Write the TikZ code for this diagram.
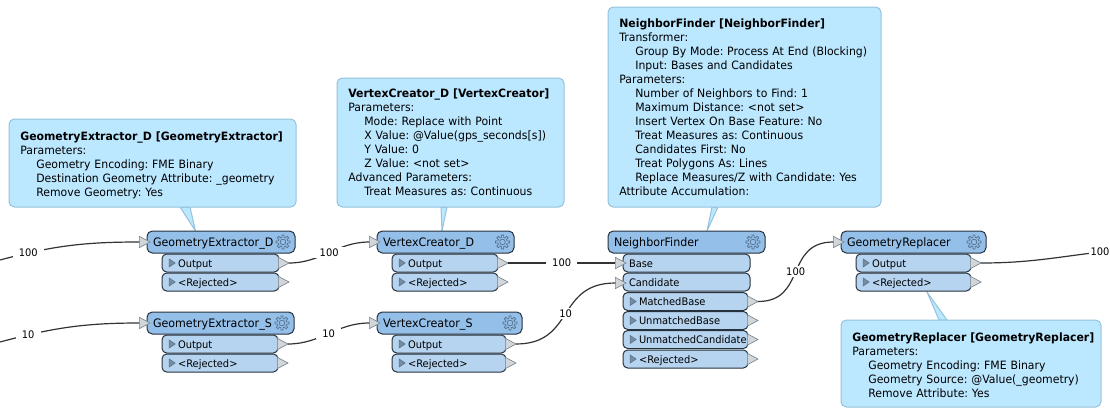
\documentclass[tikz,border=0pt]{standalone}
\usepackage{fontspec}
\setmainfont[FakeStretch=0.95]{DejaVu Sans}
\frenchspacing
\usetikzlibrary{arrows.meta, positioning, shapes.geometric}
\definecolor{headblue}{RGB}{148, 191, 233}
\definecolor{portblue}{RGB}{182, 212, 240}
\definecolor{edgedark}{RGB}{38, 50, 62}
\definecolor{notefill}{RGB}{187, 231, 255}
\definecolor{noteedge}{RGB}{150, 195, 220}
\definecolor{tipgrey}{RGB}{208, 214, 218}
\definecolor{tipedge}{RGB}{125, 135, 145}
\definecolor{innergrey}{RGB}{120, 140, 160}
\definecolor{gearline}{RGB}{85, 115, 145}
\newcommand{\ind}{\hspace*{12pt}}
\newcommand{\lift}{\rule{0pt}{9.5pt}}
\newcommand{\notetitle}[1]{\mbox{\textbf{#1}}}

\begin{document}
\begin{tikzpicture}[
  x=0.75pt, y=-0.75pt,
  every node/.style={font=\fontsize{7.8}{10.5}\selectfont, text=black},
  head/.style={rectangle, rounded corners=4pt, draw=edgedark, line width=0.75pt, fill=headblue,
               anchor=north west, outer sep=0pt, inner xsep=0pt, inner ysep=0pt,
               minimum width=#1*0.75pt, text width=#1*0.75pt, minimum height=16.5pt,
               text height=7.5pt, text depth=1.5pt, align=left,
               font=\fontsize{8.75}{11}\selectfont, execute at begin node=\hspace*{4.5pt}},
  portbox/.style={rectangle, rounded corners=3.5pt, draw=edgedark, line width=0.75pt, fill=portblue,
               anchor=north west, outer sep=0pt, inner xsep=0pt, inner ysep=0pt,
               minimum width=#1*0.75pt, text width=#1*0.75pt, minimum height=13.5pt,
               text height=7pt, text depth=1pt, align=left},
  outport/.style={portbox=#1, execute at begin node=\hspace*{12pt}},
  inport/.style={portbox=#1, execute at begin node=\hspace*{4.5pt}},
  note/.style={rectangle, rounded corners=4pt, draw=noteedge, line width=0.75pt, fill=notefill,
               anchor=north west, outer sep=0pt, inner xsep=8.5pt, inner ysep=0pt,
               minimum width=#1*0.75pt, text width=#1*0.75pt-17pt, align=left,
               font=\fontsize{8.6}{10.5}\selectfont},
  notetail/.style={draw=noteedge, line width=0.75pt, fill=notefill},
  porttip/.style={isosceles triangle, isosceles triangle apex angle=60, isosceles triangle stretches,
              minimum width=8.5pt, minimum height=8pt, inner sep=0pt, outer sep=0pt,
              draw=tipedge, line width=0.5pt, fill=tipgrey, anchor=apex},
  innertip/.style={isosceles triangle, isosceles triangle stretches, minimum width=6pt, minimum height=4.5pt,
              inner sep=0pt, draw=gearline, line width=0.4pt, fill=innergrey},
  wire/.style={draw=black!80, line width=0.9pt},
  count/.style={fill=white, inner xsep=4.5pt, inner ysep=1pt},
  pics/gear/.style={code={
    \draw[gearline, line width=0.55pt] (-14:4.7)
      foreach \a in {0,45,...,315} { -- ({\a-14}:4.7) -- ({\a-9}:7) -- ({\a+9}:7) -- ({\a+14}:4.7) } -- cycle;
    \draw[gearline, line width=0.55pt] (0,0) circle (2.8);
  }}
]
\useasboundingbox (0,0) rectangle (1110,418);

% parameter notes, tails go first so the box hides their top edge
\path[notetail] (180,207) -- (190,207) -- (195.5,231) -- cycle;
\node[note=287, minimum height=66pt] (gednote) at (9,119) {\lift\notetitle{GeometryExtractor\_D [GeometryExtractor]}\\
  Parameters:\\
  \ind Geometry Encoding: FME Binary\\
  \ind Destination Geometry Attribute: \_geometry\\
  \ind Remove Geometry: Yes};

\path[notetail] (441,207) -- (447,207) -- (442,231) -- cycle;
\node[note=227, minimum height=96.75pt] (vcdnote) at (337,78) {\notetitle{VertexCreator\_D [VertexCreator]}\\
  Parameters:\\
  \ind Mode: Replace with Point\\
  \ind X Value: @Value(gps\_seconds[s])\\
  \ind Y Value: 0\\
  \ind Z Value: <not set>\\
  Advanced Parameters:\\
  \ind Treat Measures as: Continuous};

\path[notetail] (712,207) -- (718,207) -- (707,231) -- cycle;
\node[note=273, minimum height=150pt] (nfnote) at (608,7) {\notetitle{NeighborFinder [NeighborFinder]}\\
  Transformer:\\
  \ind Group By Mode: Process At End (Blocking)\\
  \ind Input: Bases and Candidates\\
  Parameters:\\
  \ind Number of Neighbors to Find: 1\\
  \ind Maximum Distance: <not set>\\
  \ind Insert Vertex On Base Feature: No\\
  \ind Treat Measures as: Continuous\\
  \ind Candidates First: No\\
  \ind Treat Polygons As: Lines\\
  \ind Replace Measures/Z with Candidate: Yes\\
  Attribute Accumulation:};

\path[notetail] (939,320) -- (947,320) -- (927,292) -- cycle;
\node[note=260, minimum height=65.25pt] (grnote) at (841,320) {\lift\notetitle{GeometryReplacer [GeometryReplacer]}\\
  Parameters:\\
  \ind Geometry Encoding: FME Binary\\
  \ind Geometry Source: @Value(\_geometry)\\
  \ind Remove Attribute: Yes};

% transformers
\node[head=148] (ged) at (147,231) {GeometryExtractor\_D};
\node[outport=117] (gedout) at (162,254) {Output};
\node[outport=117] (gedrej) at (162,273) {<Rejected>};

\node[head=147] (ges) at (147,312) {GeometryExtractor\_S};
\node[outport=116] (gesout) at (162,335) {Output};
\node[outport=116] (gesrej) at (162,354) {<Rejected>};

\node[head=137] (vcd) at (377,231) {VertexCreator\_D};
\node[outport=106] (vcdout) at (392,254) {Output};
\node[outport=106] (vcdrej) at (392,273) {<Rejected>};

\node[head=145] (vcs) at (377,312) {VertexCreator\_S};
\node[outport=114] (vcsout) at (392,335) {Output};
\node[outport=114] (vcsrej) at (392,354) {<Rejected>};

\node[head=157] (nf) at (608,231) {NeighborFinder};
\node[inport=127] (nfbase) at (623,254) {Base};
\node[inport=127] (nfcand) at (623,273) {Candidate};
\node[outport=125] (nfmatch) at (623,292.5) {MatchedBase};
\node[outport=125] (nfunbase) at (623,311.5) {UnmatchedBase};
\node[outport=125] (nfuncand) at (623,330.5) {UnmatchedCandidate};
\node[outport=125] (nfrej) at (623,350) {<Rejected>};

\node[head=145] (gr) at (841,231) {GeometryReplacer};
\node[outport=115] (grout) at (856,254) {Output};
\node[outport=115] (grrej) at (856,273) {<Rejected>};

% input tips
\node[porttip] (gedin) at (150,242) {};
\node[porttip] (gesin) at (150,323) {};
\node[porttip] (vcdin) at (380,242) {};
\node[porttip] (vcsin) at (380,323) {};
\node[porttip] (nfbasein) at (626,263) {};
\node[porttip] (nfcandin) at (626,283) {};
\node[porttip] (grin) at (844,242) {};

% output tips and small triangles in the ports
\foreach \p in {gedout, gedrej, gesout, gesrej, vcdout, vcdrej, vcsout, vcsrej,
                nfmatch, nfunbase, nfuncand, nfrej, grout, grrej} {
  \node[porttip] (\p-tip) at ([xshift=7.5pt]\p.east) {};
  \node[innertip] (\p-mark) at ([xshift=7pt]\p.west) {};
}

% gears
\foreach \gx/\gy in {283/242, 282/323, 502.5/242, 510/323, 753/242, 974/242}
  \pic at (\gx,\gy) {gear};

% feature connections
\coordinate (inD) at (0,260);
\coordinate (inS) at (0,342);
\coordinate (outD) at (1100,252);
\draw[wire] (inD) to[out=15, in=180] node[count, pos=0.19] (cntinD) {100} (gedin.west);
\draw[wire] (inS) to[out=15, in=180] node[count, pos=0.19] (cntinS) {10} (gesin.west);
\draw[wire] (gedout-tip.apex) to[out=0, in=180] node[count] (cntgeD) {100} (vcdin.west);
\draw[wire] (gesout-tip.apex) to[out=0, in=180] node[count] (cntgeS) {10} (vcsin.west);
\draw[wire] (vcdout-tip.apex) -- node[count] (cntvcD) {100} (nfbasein.west);
\draw[wire] (vcsout-tip.apex) to[out=0, in=180, looseness=1.3] node[count] (cntvcS) {10} (nfcandin.west);
\draw[wire] (nfmatch-tip.apex) to[out=0, in=180, looseness=1.3] node[count] (cntnf) {100} (grin.west);
\draw[wire] (grout-tip.apex) to[out=0, in=187] (outD);
\node[count, inner xsep=1.5pt] (cntgr) at (outD) {100};

\end{tikzpicture}
\end{document}
